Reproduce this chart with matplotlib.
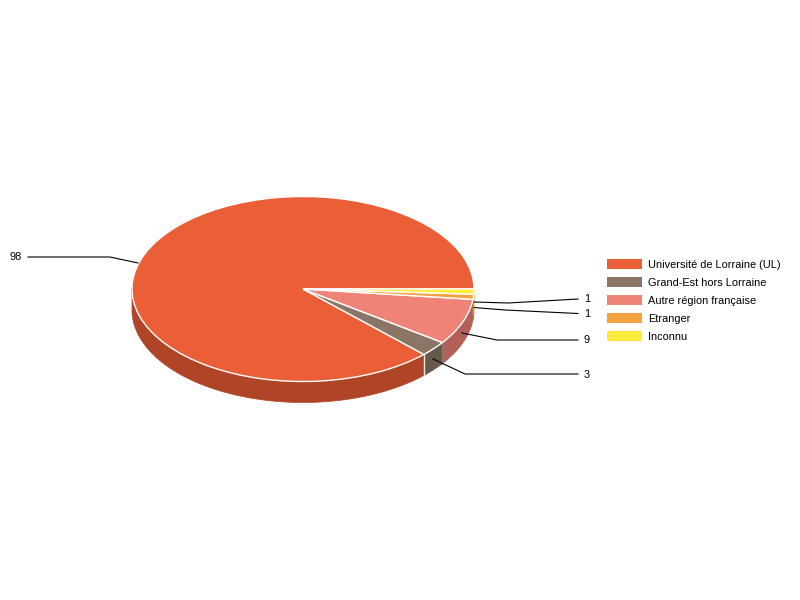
import numpy as np
import matplotlib
matplotlib.use("Agg")
import matplotlib.pyplot as plt
from matplotlib.patches import Wedge, Polygon, Patch
from matplotlib.transforms import Affine2D

plt.rcParams['font.family'] = ['Liberation Sans', 'DejaVu Sans']

categories = ["Université de Lorraine (UL)", "Grand-Est hors Lorraine",
              "Autre région française", "Etranger", "Inconnu"]
values = [98, 3, 9, 1, 1]
colors = ["#EA5F38", "#8A7566", "#EF8377", "#F4A13F", "#FFEB3B"]
wall_colors = ["#AF4427", "#67584C", "#B36158", "#B7782F", "#BFB02C"]

CX, CY, RX, RY, DEPTH = 303, 289, 171, 92.5, 21
FS = 7.9

fig = plt.figure(figsize=(8, 6), dpi=100, facecolor="white")
ax = fig.add_axes([0, 0, 1, 1])
ax.set_xlim(0, 800)
ax.set_ylim(600, 0)
ax.axis("off")

fractions = np.array(values) / sum(values)
edges = np.concatenate([[0], np.cumsum(fractions) * 360])

def pt(deg, dy=0):
    # screen y points down; angles run counter-clockwise on screen
    t = np.radians(deg)
    return CX + RX * np.cos(t), CY - RY * np.sin(t) + dy

# side walls (only the front half of the ellipse is visible: 180..360 on screen)
for i in range(len(values)):
    a, b = max(edges[i], 180), edges[i + 1]
    if b <= a:
        continue
    ang = np.linspace(a, b, 120)
    xs, ys = pt(ang)
    poly = np.column_stack([np.r_[xs, xs[::-1]], np.r_[ys, ys[::-1] + DEPTH]])
    ax.add_patch(Polygon(poly, closed=True, facecolor=wall_colors[i],
                         edgecolor=wall_colors[i], lw=0.5, zorder=2))
    # seams between the front walls
    if i == 0:
        x0, y0 = pt(b)
        ax.plot([x0, x0], [y0, y0 + DEPTH], color="#F3E9E4", lw=1.0, zorder=3)
    if i == 1:
        x0, y0 = pt(b)
        ax.plot([x0, x0], [y0, y0 + DEPTH], color="#8F7F72", lw=0.8, zorder=3)

# top face; wedges use a y-flipped scaling since the y axis is inverted
tf = Affine2D().scale(RX, -RY).translate(CX, CY) + ax.transData
for i in range(len(values)):
    ax.add_patch(Wedge((0, 0), 1, edges[i], edges[i + 1], facecolor=colors[i],
                       edgecolor="white", lw=1.0, transform=tf, zorder=4))

# leader lines and value labels (label anchors are layout only)
leaders = [
    [(138, 263), (110, 257), (28, 257)],
    [(433, 359), (465, 374), (578, 374)],
    [(462, 333), (497, 340), (578, 340)],
    [(474, 307.5), (505, 310), (578, 313.5)],
    [(474, 302), (508, 303), (578, 299)],
]
label_pos = [(22, 257.5, "right"), (584, 374.7, "left"), (584, 340, "left"),
             (584, 314, "left"), (584, 299.5, "left")]
for i, v in enumerate(values):
    l = np.array(leaders[i])
    ax.plot(l[:, 0], l[:, 1], color="black", lw=0.8, zorder=5, solid_joinstyle="miter")
    x, y, ha = label_pos[i]
    ax.text(x, y, str(v), ha=ha, va="center", fontsize=FS, color="black", zorder=6)

handles = [Patch(facecolor=c, edgecolor="none") for c in colors]
leg = ax.legend(handles, categories, loc="upper left", bbox_to_anchor=(607 / 800, 1 - 259.2 / 600),
                bbox_transform=fig.transFigure, frameon=False, fontsize=FS,
                borderpad=0, borderaxespad=0, handlelength=35 * 0.72 / FS,
                handleheight=11.5 * 0.72 / FS, handletextpad=6 * 0.72 / FS,
                labelspacing=(18.6 - 11.5) * 0.72 / FS)

fig.savefig("out.png", dpi=100)
